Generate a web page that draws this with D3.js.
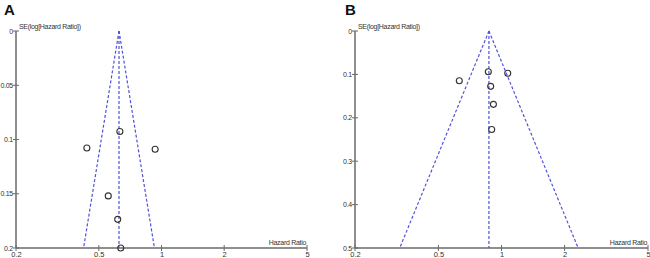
<!DOCTYPE html>
<html><head><meta charset="utf-8">
<script src="https://cdn.jsdelivr.net/npm/d3@7"></script>
<style>body{margin:0;background:#fff}svg{display:block}</style>
</head><body>
<svg id="c" width="650" height="258"></svg>
<script>
// ---- data ----
const xTicks = [0.2, 0.5, 1, 2, 5];
const xTickLabels = ["0.2", "0.5", "1", "2", "5"];

const aYTicks = [0, 0.05, 0.1, 0.15, 0.2];
const aYTickLabels = ["0", "0.05", "0.1", "0.15", "0.2"];
const aPooled = 0.625;
const aHR = [0.631, 0.438, 0.932, 0.555, 0.616, 0.637];
const aSE = [0.0926, 0.1078, 0.109, 0.152, 0.1736, 0.2];

const bYTicks = [0, 0.1, 0.2, 0.3, 0.4, 0.5];
const bYTickLabels = ["0", "0.1", "0.2", "0.3", "0.4", "0.5"];
const bPooled = 0.871;
const bHR = [0.865, 1.071, 0.629, 0.888, 0.915, 0.898];
const bSE = [0.0938, 0.0975, 0.1145, 0.1275, 0.169, 0.227];

const svg = d3.select("#c");
const FONT = "'Liberation Sans', Arial, sans-serif";

function panel(o) {
  const g = svg.append("g");
  const x = d3.scaleLog().domain([0.2, 5]).range([o.x0, o.x1]);
  const y = d3.scaleLinear().domain([0, o.seMax]).range([31, 248]);
  const blue = "#5050dc";

  // funnel lines
  const pl = Math.log(o.pooled);
  const lineGen = d3.line().x(d => x(d[0])).y(d => y(d[1]));
  const funnel = [
    [[o.pooled, 0], [Math.exp(pl - 1.96 * o.seMax), o.seMax]],
    [[o.pooled, 0], [Math.exp(pl + 1.96 * o.seMax), o.seMax]],
    [[o.pooled, 0], [o.pooled, o.seMax]]
  ];
  g.selectAll("path.f").data(funnel).join("path")
    .attr("d", lineGen).attr("fill", "none")
    .attr("stroke", blue).attr("stroke-width", 1.2)
    .attr("stroke-dasharray", "3,2");

  // axes
  const axisCol = "#6a6a6a";
  g.append("line").attr("x1", o.x0).attr("x2", o.x1).attr("y1", y(o.seMax)).attr("y2", y(o.seMax))
    .attr("stroke", axisCol).attr("stroke-width", 1.5);
  g.append("line").attr("x1", o.x0).attr("x2", o.x0).attr("y1", y(0)).attr("y2", y(o.seMax))
    .attr("stroke", axisCol).attr("stroke-width", 1.5);

  // x ticks
  g.selectAll("line.xt").data(xTicks).join("line")
    .attr("x1", d => x(d)).attr("x2", d => x(d))
    .attr("y1", y(o.seMax) - 3).attr("y2", y(o.seMax) + 3)
    .attr("stroke", axisCol).attr("stroke-width", 1);
  g.selectAll("text.xl").data(xTicks).join("text")
    .attr("x", d => x(d) + 0.5).attr("y", 256.5)
    .attr("text-anchor", "middle").attr("font-family", FONT).attr("font-size", 7.5)
    .attr("fill", "#333").text((d, i) => xTickLabels[i]);

  // y ticks
  g.selectAll("line.yt").data(o.yTicks).join("line")
    .attr("x1", o.x0 - 3).attr("x2", o.x0 + 3)
    .attr("y1", d => y(d)).attr("y2", d => y(d))
    .attr("stroke", axisCol).attr("stroke-width", 1);
  g.selectAll("text.yl").data(o.yTicks).join("text")
    .attr("x", o.x0 - 3.2).attr("y", d => y(d) + 2.5)
    .attr("text-anchor", "end").attr("font-family", FONT).attr("font-size", 7)
    .attr("letter-spacing", -0.35)
    .attr("fill", "#333").text((d, i) => o.yLabels[i]);

  // axis titles
  g.append("text").attr("x", o.x0 + 3).attr("y", 29)
    .attr("font-family", FONT).attr("font-size", 7).attr("fill", "#333")
    .attr("letter-spacing", -0.3)
    .text("SE(log[Hazard Ratio])");
  g.append("text").attr("x", o.x1 - 1).attr("y", 244.5).attr("text-anchor", "end")
    .attr("font-family", FONT).attr("font-size", 7).attr("fill", "#333")
    .attr("letter-spacing", -0.3)
    .text("Hazard Ratio");

  // points
  g.selectAll("circle").data(o.hr).join("circle")
    .attr("cx", d => x(d)).attr("cy", (d, i) => y(o.se[i])).attr("r", 3)
    .attr("fill", "none").attr("stroke", "#333").attr("stroke-width", 1.1);

  // panel letter
  g.append("text").attr("x", o.lx).attr("y", 15)
    .attr("font-family", FONT).attr("font-weight", "bold").attr("font-size", 15)
    .attr("fill", "#111").text(o.letter);
}

panel({x0: 16, x1: 307, seMax: 0.2, yTicks: aYTicks, yLabels: aYTickLabels,
  pooled: aPooled, hr: aHR, se: aSE, letter: "A", lx: 4});
panel({x0: 355, x1: 648, seMax: 0.5, yTicks: bYTicks, yLabels: bYTickLabels,
  pooled: bPooled, hr: bHR, se: bSE, letter: "B", lx: 345});
</script>
</body></html>
